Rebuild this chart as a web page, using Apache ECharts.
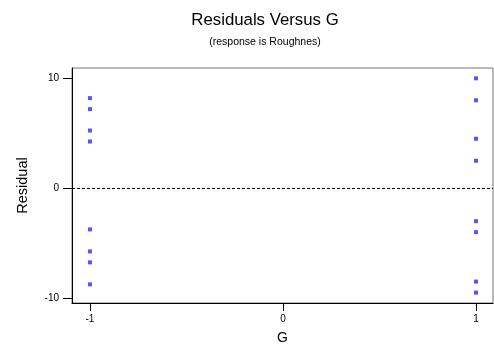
<!DOCTYPE html>
<html>
<head>
<meta charset="utf-8">
<script src="https://cdn.jsdelivr.net/npm/echarts@6/dist/echarts.min.js"></script>
<style>
html,body{margin:0;padding:0;background:#fff;}
#c{width:494px;height:345px;}
</style>
</head>
<body>
<div id="c"></div>
<script>
const gLevels = [-1, -1, -1, -1, -1, -1, -1, -1, 1, 1, 1, 1, 1, 1, 1, 1];
const residuals = [8.2, 7.2, 5.25, 4.25, -3.75, -5.75, -6.75, -8.75, 10, 8, 4.5, 2.5, -3, -4, -8.5, -9.5];
const xTicks = [-1, 0, 1];
const yTicks = [-10, 0, 10];
const titleText = 'Residuals Versus G';
const subtitleText = '(response is Roughnes)';
const xName = 'G';
const yName = 'Residual';

const points = gLevels.map((g, i) => [g, residuals[i]]);
const font = 'Liberation Sans, Arial, sans-serif';

const chart = echarts.init(document.getElementById('c'), null, {renderer: 'canvas'});
chart.setOption({
  animation: false,
  backgroundColor: '#fff',
  title: {
    text: titleText,
    subtext: subtitleText,
    left: 260, textAlign: 'center', top: 7,
    itemGap: 8,
    textStyle: {fontFamily: font, fontSize: 16.8, fontWeight: 'normal', color: '#000'},
    subtextStyle: {fontFamily: font, fontSize: 10.5, color: '#000'}
  },
  grid: {left: 72, right: 1, top: 68, bottom: 42, outerBoundsMode: 'none', containLabel: false,
         show: true, borderColor: '#777', borderWidth: 1, backgroundColor: 'transparent'},
  xAxis: {
    type: 'value', min: -1.093, max: 1.088,
    name: xName, nameLocation: 'middle', nameGap: 28,
    nameTextStyle: {fontFamily: font, fontSize: 14, color: '#000'},
    axisLine: {show: true, onZero: false, lineStyle: {color: '#000', width: 1}},
    axisTick: {show: true, length: 8, customValues: xTicks, lineStyle: {color: '#000'}},
    axisLabel: {customValues: xTicks, fontFamily: font, fontSize: 10, color: '#000', margin: 11},
    splitLine: {show: false}
  },
  yAxis: {
    type: 'value', min: -10.45, max: 10.94,
    name: yName, nameLocation: 'middle', nameGap: 42, nameRotate: 90,
    nameTextStyle: {fontFamily: font, fontSize: 14.5, color: '#000'},
    axisLine: {show: true, onZero: false, lineStyle: {color: '#000', width: 1}},
    axisTick: {show: true, length: 9, customValues: yTicks, lineStyle: {color: '#000'}},
    axisLabel: {customValues: yTicks, fontFamily: font, fontSize: 10, color: '#000', margin: 13},
    splitLine: {show: false}
  },
  series: [{
    type: 'scatter',
    data: points,
    symbol: 'rect',
    symbolSize: 4,
    itemStyle: {color: '#2a2aff'},
    markLine: {
      silent: true, symbol: 'none', label: {show: false},
      lineStyle: {color: '#000', type: [3, 2], width: 1},
      data: [{yAxis: 0}]
    }
  }]
});
</script>
</body>
</html>
